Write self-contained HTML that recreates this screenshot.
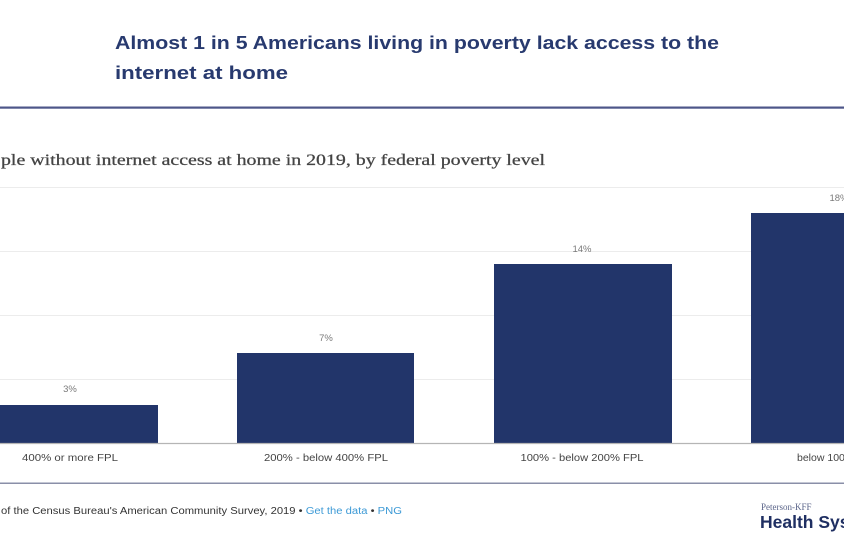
<!DOCTYPE html>
<html>
<head>
<meta charset="utf-8">
<style>
html,body{margin:0;padding:0;background:#fff;}
body{width:844px;height:554px;overflow:hidden;}
svg{display:block;}
</style>
</head>
<body>
<svg width="844" height="554" viewBox="0 0 844 554" xmlns="http://www.w3.org/2000/svg">
  <rect width="844" height="554" fill="#ffffff"/>
  <!-- Title -->
  <text x="115" y="49" font-family="Liberation Sans, sans-serif" font-weight="bold" font-size="18.5" fill="#283a6f" textLength="604" lengthAdjust="spacingAndGlyphs">Almost 1 in 5 Americans living in poverty lack access to the</text>
  <text x="115" y="79" font-family="Liberation Sans, sans-serif" font-weight="bold" font-size="18.5" fill="#283a6f" textLength="173" lengthAdjust="spacingAndGlyphs">internet at home</text>
  <!-- top rule -->
  <rect x="0" y="106.5" width="844" height="2.2" fill="#4d5689"/>
  <!-- subtitle -->
  <text x="1" y="165" font-family="Liberation Serif, serif" font-size="15.5" fill="#444" stroke="#444" stroke-width="0.25" textLength="544" lengthAdjust="spacingAndGlyphs">ple without internet access at home in 2019, by federal poverty level</text>
  <!-- gridlines -->
  <g stroke="#ececec" stroke-width="1">
    <line x1="0" y1="187.5" x2="844" y2="187.5"/>
    <line x1="0" y1="251.5" x2="844" y2="251.5"/>
    <line x1="0" y1="315.5" x2="844" y2="315.5"/>
    <line x1="0" y1="379.5" x2="844" y2="379.5"/>
  </g>
  <!-- bars -->
  <g fill="#22356a">
    <rect x="-19" y="405" width="177" height="38"/>
    <rect x="237" y="353" width="177" height="90"/>
    <rect x="494" y="264" width="178" height="179"/>
    <rect x="751" y="213" width="177" height="230"/>
  </g>
  <!-- axis -->
  <line x1="0" y1="443.5" x2="844" y2="443.5" stroke="#b5b5b5" stroke-width="1.2"/>
  <!-- value labels -->
  <g font-family="Liberation Sans, sans-serif" font-size="9.5" fill="#7a7a7a" text-anchor="middle">
    <text x="70" y="392">3%</text>
    <text x="326" y="341">7%</text>
    <text x="582" y="252">14%</text>
    <text x="839" y="201">18%</text>
  </g>
  <!-- category labels -->
  <g font-family="Liberation Sans, sans-serif" font-size="10" fill="#444" text-anchor="middle">
    <text x="70" y="461" textLength="96" lengthAdjust="spacingAndGlyphs">400% or more FPL</text>
    <text x="326" y="461" textLength="124" lengthAdjust="spacingAndGlyphs">200% - below 400% FPL</text>
    <text x="582" y="461" textLength="123" lengthAdjust="spacingAndGlyphs">100% - below 200% FPL</text>
  </g>
  <text x="797" y="461" font-family="Liberation Sans, sans-serif" font-size="10.5" fill="#444">below 100% FPL</text>
  <!-- bottom rule -->
  <rect x="0" y="482.5" width="844" height="1.5" fill="#8a8fa8"/>
  <!-- footer -->
  <text x="1" y="514" font-family="Liberation Sans, sans-serif" font-size="10" fill="#333" textLength="401" lengthAdjust="spacingAndGlyphs">of the Census Bureau's American Community Survey, 2019 • <tspan fill="#3d9ad6">Get the data</tspan> • <tspan fill="#3d9ad6">PNG</tspan></text>
  <!-- logo -->
  <text x="761" y="510" font-family="Liberation Serif, serif" font-size="9" fill="#5a6489">Peterson-KFF</text>
  <text x="760" y="528" font-family="Liberation Sans, sans-serif" font-weight="bold" font-size="17.5" fill="#1f2f62">Health System Tracker</text>
</svg>
</body>
</html>
